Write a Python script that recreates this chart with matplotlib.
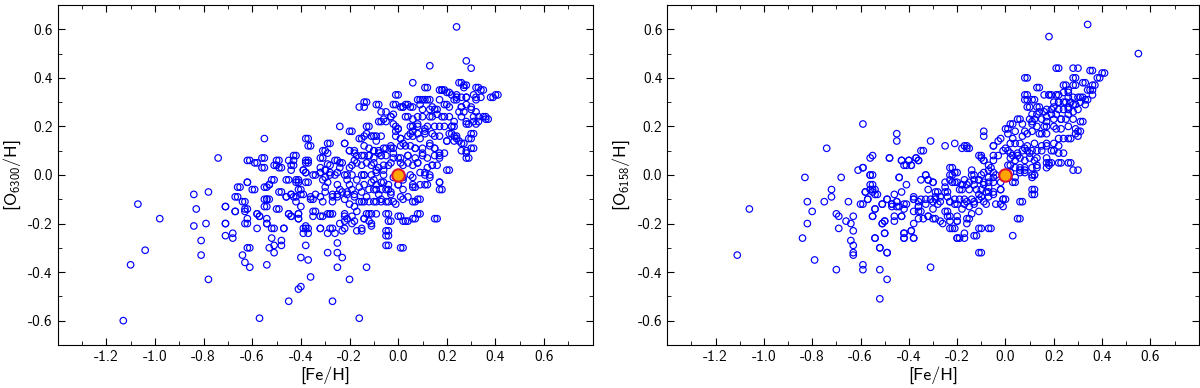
import numpy as np
from matplotlib import pyplot as plt
from matplotlib.ticker import MultipleLocator

plt.rcParams['font.family'] = ['cmss10', 'DejaVu Sans']
plt.rcParams['mathtext.fontset'] = 'custom'
plt.rcParams['mathtext.rm'] = 'cmss10'
plt.rcParams['axes.unicode_minus'] = False
plt.rcParams['axes.formatter.use_mathtext'] = False

# [Fe/H], [O6300/H] pairs
stars_6300 = [
    (-1.13, -0.60), (-1.10, -0.37), (-1.07, -0.12), (-1.04, -0.31), (-0.98, -0.18),
    (-0.84, -0.08), (-0.84, -0.21), (-0.83, -0.14), (-0.81, -0.27), (-0.81, -0.33),
    (-0.79, -0.20), (-0.78, -0.07), (-0.78, -0.43), (-0.74, 0.07), (-0.71, -0.13),
    (-0.71, -0.20), (-0.71, -0.25), (-0.68, -0.24), (-0.68, -0.26), (-0.67, -0.15),
    (-0.66, -0.09), (-0.65, -0.05), (-0.64, -0.33), (-0.63, -0.11), (-0.63, -0.36),
    (-0.62, -0.03), (-0.62, -0.14), (-0.62, -0.18), (-0.62, -0.20), (-0.62, -0.30),
    (-0.61, 0.06), (-0.61, -0.38), (-0.61, -0.30), (-0.59, -0.06), (-0.58, 0.05),
    (-0.58, -0.16), (-0.58, -0.22), (-0.57, -0.59), (-0.57, -0.17), (-0.55, 0.15),
    (-0.55, 0.07), (-0.55, 0.03), (-0.54, -0.05), (-0.54, -0.10), (-0.54, -0.13),
    (-0.54, -0.18), (-0.54, -0.20), (-0.54, -0.37), (-0.53, -0.04), (-0.53, -0.10),
    (-0.53, -0.30), (-0.52, -0.26), (-0.51, -0.02), (-0.51, -0.22), (-0.51, -0.29),
    (-0.51, -0.32), (-0.50, 0.04), (-0.49, 0.06), (-0.49, -0.14), (-0.48, 0.03),
    (-0.48, -0.07), (-0.48, -0.27), (-0.48, -0.29), (-0.47, -0.22), (-0.46, -0.09),
    (-0.45, -0.02), (-0.45, -0.16), (-0.45, -0.52), (-0.44, 0.02), (-0.44, -0.08),
    (-0.44, -0.17), (-0.43, 0.06), (-0.43, 0.04), (-0.42, 0.08), (-0.42, -0.11),
    (-0.42, -0.09), (-0.41, -0.16), (-0.41, -0.18), (-0.41, -0.02), (-0.41, -0.03),
    (-0.41, -0.47), (-0.40, -0.06), (-0.40, -0.13), (-0.40, -0.34), (-0.40, -0.46),
    (-0.39, 0.02), (-0.39, -0.08), (-0.39, -0.24), (-0.38, -0.21), (-0.38, -0.29),
    (-0.38, 0.01), (-0.37, 0.15), (-0.37, 0.06), (-0.37, 0.05), (-0.37, -0.03),
    (-0.37, -0.22), (-0.37, -0.24), (-0.37, -0.35), (-0.36, 0.12), (-0.36, -0.09),
    (-0.36, -0.42), (-0.35, -0.10), (-0.35, -0.17), (-0.34, 0.00), (-0.34, -0.15),
    (-0.32, 0.01), (-0.32, -0.22), (-0.31, 0.07), (-0.31, -0.02), (-0.31, -0.11),
    (-0.31, -0.17), (-0.30, 0.10), (-0.30, 0.02), (-0.30, -0.07), (-0.29, -0.03),
    (-0.29, -0.24), (-0.29, -0.32), (-0.28, 0.13), (-0.28, 0.04), (-0.28, 0.01),
    (-0.28, -0.16), (-0.27, -0.08), (-0.27, -0.11), (-0.27, -0.16), (-0.27, -0.22),
    (-0.27, -0.52), (-0.26, -0.24), (-0.25, 0.06), (-0.25, 0.01), (-0.25, -0.04),
    (-0.25, -0.09), (-0.25, -0.28), (-0.25, -0.32), (-0.25, -0.38), (-0.24, 0.20),
    (-0.24, -0.06), (-0.24, -0.20), (-0.23, 0.05), (-0.23, -0.23), (-0.23, -0.34),
    (-0.22, 0.13), (-0.22, -0.10), (-0.22, -0.17), (-0.21, 0.00), (-0.21, -0.07),
    (-0.21, -0.18), (-0.20, 0.10), (-0.20, -0.04), (-0.20, -0.12), (-0.20, -0.43),
    (-0.19, 0.18), (-0.19, 0.04), (-0.19, -0.20), (-0.18, 0.10), (-0.18, -0.08),
    (-0.18, -0.13), (-0.17, 0.08), (-0.17, -0.02), (-0.17, -0.15), (-0.17, -0.23),
    (-0.16, -0.59), (-0.16, -0.05), (-0.16, -0.11), (-0.15, 0.15), (-0.15, 0.08),
    (-0.15, -0.11), (-0.15, -0.22), (-0.14, 0.28), (-0.14, 0.00), (-0.14, -0.18),
    (-0.13, 0.30), (-0.13, 0.17), (-0.13, -0.09), (-0.13, -0.38), (-0.12, 0.20),
    (-0.12, 0.08), (-0.12, -0.16), (-0.11, 0.04), (-0.11, -0.03), (-0.11, -0.21),
    (-0.10, 0.16), (-0.10, 0.10), (-0.10, -0.06), (-0.10, -0.11), (-0.09, 0.14),
    (-0.09, 0.02), (-0.09, -0.16), (-0.08, 0.29), (-0.08, 0.09), (-0.08, -0.08),
    (-0.07, 0.16), (-0.07, 0.08), (-0.07, -0.03), (-0.07, -0.11), (-0.06, 0.23),
    (-0.06, 0.02), (-0.05, 0.26), (-0.05, 0.22), (-0.05, 0.11), (-0.04, 0.04),
    (-0.04, -0.06), (-0.04, -0.16), (-0.04, -0.23), (-0.04, -0.25), (-0.04, -0.29),
    (-0.04, -0.11), (-0.03, 0.24), (-0.03, 0.11), (-0.03, -0.08), (-0.03, -0.19),
    (-0.02, 0.21), (-0.02, 0.09), (-0.02, -0.01), (-0.01, 0.29), (-0.01, 0.18),
    (-0.01, -0.12), (0.00, 0.33), (0.00, 0.19), (0.00, 0.07), (0.00, -0.04),
    (0.01, 0.15), (0.01, -0.17), (0.02, 0.28), (0.02, -0.30), (0.02, 0.04),
    (0.03, 0.24), (0.03, 0.12), (0.03, -0.19), (0.04, 0.29), (0.04, 0.08),
    (0.04, -0.09), (0.05, 0.20), (0.05, 0.00), (0.06, 0.38), (0.06, 0.28),
    (0.06, 0.16), (0.07, 0.11), (0.07, -0.05), (0.07, -0.18), (0.07, -0.11),
    (0.08, 0.21), (0.08, 0.05), (0.09, 0.31), (0.09, 0.15), (0.09, -0.04),
    (0.09, -0.16), (0.09, -0.10), (0.10, 0.27), (0.10, 0.24), (0.10, 0.09),
    (0.11, 0.31), (0.11, 0.18), (0.11, 0.01), (0.12, 0.20), (0.12, 0.36),
    (0.12, -0.04), (0.13, 0.45), (0.13, 0.31), (0.13, 0.13), (0.13, 0.00),
    (0.14, 0.24), (0.14, 0.04), (0.15, 0.16), (0.15, 0.11), (0.16, 0.27),
    (0.16, -0.18), (0.17, 0.20), (0.17, 0.08), (0.17, -0.03), (0.18, 0.35),
    (0.18, 0.24), (0.18, -0.06), (0.19, 0.35), (0.19, 0.09), (0.20, 0.29),
    (0.20, 0.14), (0.21, 0.02), (0.21, 0.34), (0.22, 0.20), (0.22, 0.17),
    (0.23, 0.31), (0.23, 0.20), (0.24, 0.61), (0.24, 0.33), (0.24, 0.16),
    (0.25, 0.26), (0.25, 0.14), (0.26, 0.38), (0.26, 0.28), (0.27, 0.26),
    (0.27, 0.13), (0.28, 0.47), (0.28, 0.37), (0.28, 0.32), (0.28, 0.09),
    (0.29, 0.07), (0.29, 0.21), (0.30, 0.44), (0.30, 0.28), (0.30, 0.15),
    (0.31, 0.24), (0.31, 0.17), (0.31, 0.11), (0.32, 0.26), (0.33, 0.36),
    (0.33, 0.22), (0.34, 0.32), (0.35, 0.35), (0.36, 0.24), (0.37, 0.23),
    (0.39, 0.32), (0.41, 0.33),
    (-0.14, 0.16), (-0.11, 0.16), (-0.09, 0.16), (-0.01, 0.16), (0.01, 0.15),
    (0.04, 0.16), (0.05, 0.17), (0.06, 0.18), (0.08, 0.17), (0.11, 0.17),
    (0.14, 0.17), (0.17, 0.16), (0.21, 0.17), (0.23, 0.16), (0.24, 0.15),
    (0.26, 0.13), (0.29, 0.15), (0.30, 0.17), (-0.14, 0.12), (-0.12, 0.11),
    (-0.10, 0.10), (-0.08, 0.10), (-0.06, 0.11), (-0.03, 0.12), (-0.02, 0.11),
    (0.01, 0.12), (0.02, 0.13), (0.05, 0.12), (0.07, 0.11), (0.10, 0.11),
    (0.13, 0.12), (0.15, 0.11), (0.17, 0.09), (0.20, 0.14), (0.23, 0.14),
    (0.26, 0.10), (0.28, 0.10), (0.30, 0.11), (-0.14, 0.08), (-0.12, 0.08),
    (-0.10, 0.07), (-0.07, 0.08), (-0.05, 0.08), (-0.02, 0.07), (0.01, 0.07),
    (0.04, 0.08), (0.07, 0.07), (0.10, 0.08), (0.12, 0.07), (0.15, 0.08),
    (0.17, 0.07), (0.28, 0.07), (-0.15, 0.04), (-0.13, 0.05), (-0.10, 0.05),
    (-0.08, 0.03), (-0.06, 0.04), (-0.03, 0.05), (0.01, 0.05), (0.04, 0.05),
    (0.06, 0.04), (0.08, 0.05), (0.12, 0.03), (0.14, 0.04), (0.16, 0.04),
    (0.20, 0.02), (-0.15, 0.00), (-0.14, 0.00), (-0.11, 0.00), (-0.09, 0.01),
    (-0.06, 0.00), (0.02, -0.01), (0.06, -0.01), (0.09, 0.01), (0.11, 0.00),
    (0.13, -0.01), (-0.14, -0.04), (-0.10, -0.02), (-0.09, -0.04), (-0.06, -0.03),
    (-0.04, -0.04), (0.00, -0.04), (0.02, -0.02), (0.06, -0.04), (0.11, -0.04),
    (0.17, -0.03), (-0.15, -0.07), (-0.12, -0.06), (-0.09, -0.06), (-0.07, -0.06),
    (-0.05, -0.06), (-0.03, -0.07), (0.01, -0.09), (0.02, -0.06), (0.06, -0.05),
    (0.17, -0.06), (-0.14, -0.11), (-0.12, -0.11), (-0.09, -0.11), (-0.07, -0.10),
    (-0.05, -0.11), (-0.02, -0.11), (0.02, -0.10), (0.06, -0.11), (0.08, -0.10),
    (-0.13, -0.16), (-0.11, -0.16), (-0.14, -0.18), (-0.12, -0.19), (-0.11, -0.20),
    (-0.05, -0.16), (-0.04, -0.19), (0.00, -0.17), (0.02, -0.19), (0.04, -0.19),
    (0.06, -0.18), (0.08, -0.16), (0.15, -0.18), (-0.15, -0.23), (-0.05, -0.23),
    (-0.05, -0.25), (-0.05, -0.29), (0.01, -0.30),
    (-0.20, 0.18), (-0.16, 0.28), (-0.38, 0.15), (-0.37, 0.12), (-0.29, 0.13),
    (-0.22, 0.13), (-0.31, 0.10), (-0.29, 0.09), (-0.20, 0.10), (-0.18, 0.09),
    (-0.16, 0.15), (-0.62, 0.06), (-0.59, 0.05), (-0.56, 0.07), (-0.56, 0.03),
    (-0.50, 0.06), (-0.51, 0.04), (-0.49, 0.03), (-0.45, 0.06), (-0.44, 0.04),
    (-0.43, 0.08), (-0.38, 0.06), (-0.38, 0.05), (-0.39, 0.02), (-0.38, 0.01),
    (-0.32, 0.07), (-0.29, 0.045), (-0.32, 0.03), (-0.30, 0.02), (-0.26, 0.06),
    (-0.24, 0.05), (-0.24, 0.03), (-0.20, 0.03), (-0.18, 0.06), (-0.17, 0.05),
    (-0.35, 0.00), (-0.32, 0.01), (-0.30, -0.01), (-0.28, 0.00), (-0.26, 0.00),
    (-0.22, 0.00), (-0.21, -0.02), (-0.19, 0.00), (-0.66, -0.05), (-0.62, -0.03),
    (-0.60, -0.06), (-0.55, -0.05), (-0.53, -0.04), (-0.52, -0.02), (-0.46, -0.02),
    (-0.42, -0.02), (-0.42, -0.03), (-0.38, -0.03), (-0.49, -0.07), (-0.46, -0.09),
    (-0.44, -0.08), (-0.43, -0.09), (-0.41, -0.06), (-0.40, -0.08), (-0.36, -0.10),
    (-0.34, -0.08), (-0.32, -0.09), (-0.30, -0.05), (-0.27, -0.09), (-0.25, -0.08),
    (-0.23, -0.07), (-0.21, -0.08), (-0.19, -0.06), (-0.18, -0.09), (-0.67, -0.09),
    (-0.64, -0.11), (-0.71, -0.13), (-0.67, -0.15), (-0.63, -0.14), (-0.63, -0.15),
    (-0.58, -0.16), (-0.57, -0.17), (-0.55, -0.10), (-0.55, -0.13), (-0.54, -0.10),
    (-0.50, -0.14), (-0.45, -0.16), (-0.44, -0.17), (-0.41, -0.16), (-0.41, -0.18),
    (-0.35, -0.15), (-0.32, -0.17), (-0.29, -0.16), (-0.28, -0.16), (-0.22, -0.16),
    (-0.22, -0.19), (-0.19, -0.17), (-0.18, -0.19), (-0.71, -0.20), (-0.63, -0.20),
    (-0.54, -0.20), (-0.52, -0.22), (-0.47, -0.22), (-0.39, -0.22), (-0.38, -0.22),
    (-0.32, -0.22), (-0.28, -0.22), (-0.22, -0.22),
    (0.11, 0.36), (0.17, 0.35), (0.18, 0.35), (0.25, 0.38), (0.27, 0.37),
    (0.27, 0.36), (0.32, 0.36), (0.34, 0.35), (0.20, 0.34), (0.22, 0.33),
    (0.24, 0.32), (0.26, 0.32), (0.28, 0.32), (0.31, 0.33), (0.32, 0.32),
    (0.38, 0.32), (0.40, 0.33), (-0.01, 0.33), (-0.14, 0.30), (-0.09, 0.29),
    (-0.02, 0.29), (0.01, 0.28), (0.03, 0.29), (0.05, 0.28), (0.08, 0.31),
    (0.10, 0.31), (0.12, 0.31), (0.09, 0.29), (0.14, 0.28), (0.17, 0.31),
    (0.19, 0.29), (0.21, 0.28), (0.24, 0.31), (0.26, 0.28), (0.28, 0.29),
    (0.30, 0.27), (0.32, 0.31), (-0.07, 0.26), (-0.03, 0.24), (-0.02, 0.25),
    (0.02, 0.28), (0.04, 0.24), (0.06, 0.23), (0.08, 0.24), (0.13, 0.24),
    (0.13, 0.27), (0.15, 0.27), (0.16, 0.25), (0.19, 0.24), (0.21, 0.24),
    (0.23, 0.22), (0.26, 0.24), (0.28, 0.22), (0.31, 0.22), (0.33, 0.24),
    (0.35, 0.24), (0.36, 0.23), (-0.13, 0.20), (-0.08, 0.22), (-0.07, 0.22),
    (-0.01, 0.20), (0.00, 0.19), (0.06, 0.20), (0.08, 0.20), (0.11, 0.19),
    (0.15, 0.20), (0.19, 0.20), (0.22, 0.20), (0.28, 0.21), (0.32, 0.21),
]

# [Fe/H], [O6158/H] pairs
stars_6158 = [
    (-1.11, -0.33), (-1.06, -0.14), (-0.84, -0.26), (-0.83, -0.01), (-0.82, -0.11),
    (-0.82, -0.20), (-0.80, -0.15), (-0.79, -0.35), (-0.75, -0.11), (-0.74, 0.11),
    (-0.72, -0.06), (-0.72, -0.09), (-0.70, -0.16), (-0.70, -0.39), (-0.69, -0.17),
    (-0.69, -0.22), (-0.68, -0.01), (-0.66, -0.19), (-0.65, -0.11), (-0.64, -0.20),
    (-0.64, -0.27), (-0.63, -0.23), (-0.63, -0.29), (-0.63, -0.32), (-0.63, -0.33),
    (-0.63, -0.17), (-0.61, 0.02), (-0.59, -0.12), (-0.59, 0.21), (-0.59, 0.03),
    (-0.59, -0.37), (-0.59, -0.39), (-0.58, -0.07), (-0.57, -0.10), (-0.56, -0.06),
    (-0.56, 0.07), (-0.55, 0.08), (-0.56, 0.00), (-0.55, 0.00), (-0.55, -0.04),
    (-0.55, -0.17), (-0.54, -0.06), (-0.54, -0.14), (-0.54, -0.26), (-0.53, -0.08),
    (-0.52, -0.30), (-0.52, -0.39), (-0.52, -0.51), (-0.51, -0.12), (-0.51, -0.20),
    (-0.50, -0.19), (-0.50, -0.24), (-0.49, -0.10), (-0.49, -0.32), (-0.49, -0.43),
    (-0.48, 0.07), (-0.47, -0.12), (-0.46, -0.08), (-0.46, -0.19), (-0.45, 0.17),
    (-0.45, 0.14), (-0.45, -0.11), (-0.45, -0.13), (-0.44, -0.01), (-0.43, -0.07),
    (-0.43, -0.17), (-0.43, 0.06), (-0.42, -0.24), (-0.42, -0.26), (-0.41, -0.04),
    (-0.41, 0.04), (-0.41, -0.12), (-0.40, 0.06), (-0.39, 0.04), (-0.39, -0.23),
    (-0.38, -0.10), (-0.38, -0.20), (-0.38, -0.26), (-0.37, 0.07), (-0.36, 0.06),
    (-0.36, -0.13), (-0.36, -0.15), (-0.35, -0.10), (-0.34, -0.18), (-0.34, 0.10),
    (-0.33, 0.00), (-0.33, -0.12), (-0.32, -0.02), (-0.32, -0.06), (-0.32, -0.17),
    (-0.31, 0.14), (-0.31, -0.38), (-0.31, -0.10), (-0.30, -0.03), (-0.30, -0.14),
    (-0.29, -0.18), (-0.29, -0.10), (-0.28, -0.07), (-0.28, -0.12), (-0.27, -0.09),
    (-0.26, -0.20), (-0.25, -0.05), (-0.25, 0.12), (-0.24, -0.15), (-0.24, -0.07),
    (-0.23, -0.17), (-0.23, -0.11), (-0.22, -0.22), (-0.22, 0.03), (-0.22, 0.00),
    (-0.21, 0.13), (-0.21, -0.03), (-0.21, -0.12), (-0.21, -0.22), (-0.20, 0.01),
    (-0.20, -0.19), (-0.20, -0.26), (-0.19, -0.06), (-0.18, 0.11), (-0.18, -0.04),
    (-0.18, -0.14), (-0.17, -0.24), (-0.17, -0.26), (-0.17, -0.02), (-0.16, 0.12),
    (-0.16, -0.11), (-0.15, 0.11), (-0.15, -0.18), (-0.15, -0.03), (-0.14, -0.16),
    (-0.14, 0.00), (-0.13, -0.12), (-0.12, -0.25), (-0.12, -0.06), (-0.11, -0.15),
    (-0.11, -0.02), (-0.10, 0.08), (-0.10, -0.09), (-0.10, -0.22), (-0.10, -0.32),
    (-0.09, 0.18), (-0.09, 0.16), (-0.09, 0.06), (-0.09, -0.04), (-0.08, -0.12),
    (-0.07, -0.07), (-0.07, 0.02), (-0.06, -0.22), (-0.05, 0.12), (-0.05, -0.08),
    (-0.04, -0.12), (-0.04, 0.00), (-0.03, 0.14), (-0.03, 0.08), (-0.02, 0.15),
    (-0.02, -0.06), (-0.01, -0.13), (-0.01, -0.10), (0.00, 0.11), (0.00, -0.10),
    (0.01, 0.04), (0.01, 0.19), (0.02, 0.09), (0.03, 0.21), (0.03, 0.15),
    (0.03, -0.25), (0.04, 0.13), (0.04, -0.01), (0.05, 0.08), (0.06, 0.23),
    (0.06, -0.18), (0.06, 0.02), (0.07, -0.11), (0.07, 0.16), (0.08, 0.11),
    (0.08, 0.02), (0.09, 0.40), (0.09, 0.33), (0.09, 0.31), (0.09, 0.17),
    (0.10, 0.28), (0.10, 0.09), (0.11, 0.22), (0.12, 0.31), (0.12, 0.00),
    (0.12, -0.06), (0.12, -0.08), (0.13, 0.25), (0.13, 0.03), (0.13, 0.07),
    (0.14, 0.36), (0.14, 0.28), (0.15, 0.17), (0.15, 0.10), (0.16, 0.26),
    (0.17, 0.20), (0.17, 0.12), (0.18, 0.57), (0.18, 0.33), (0.18, 0.05),
    (0.18, 0.04), (0.19, 0.33), (0.19, 0.27), (0.19, 0.05), (0.20, 0.10),
    (0.21, 0.19), (0.22, 0.44), (0.22, 0.33), (0.22, 0.30), (0.23, 0.23),
    (0.23, 0.05), (0.24, 0.15), (0.24, 0.09), (0.25, 0.37), (0.25, 0.30),
    (0.26, 0.35), (0.26, 0.28), (0.26, 0.25), (0.27, 0.15), (0.27, 0.05),
    (0.28, 0.32), (0.29, 0.40), (0.29, 0.37), (0.29, 0.29), (0.30, 0.44),
    (0.30, 0.16), (0.30, 0.02), (0.31, 0.32), (0.31, 0.18), (0.32, 0.22),
    (0.33, 0.38), (0.33, 0.29), (0.34, 0.62), (0.34, 0.31), (0.35, 0.35),
    (0.36, 0.43), (0.36, 0.33), (0.37, 0.37), (0.39, 0.40), (0.41, 0.42),
    (0.55, 0.50),
    (-0.17, 0.12), (-0.16, 0.11), (-0.05, 0.12), (-0.48, 0.07), (-0.43, 0.06),
    (-0.40, 0.06), (-0.42, 0.04), (-0.39, 0.04), (-0.37, 0.07), (-0.36, 0.06),
    (-0.35, 0.10), (-0.11, 0.08), (-0.10, 0.07), (-0.09, 0.06), (-0.07, 0.04),
    (-0.05, 0.08), (-0.05, 0.06), (-0.59, 0.03), (-0.56, 0.00), (-0.44, -0.01),
    (-0.33, 0.00), (-0.32, -0.02), (-0.30, -0.03), (-0.35, -0.02), (-0.23, 0.03),
    (-0.23, 0.00), (-0.21, 0.01), (-0.23, -0.02), (-0.25, -0.03), (-0.22, -0.03),
    (-0.20, -0.03), (-0.18, -0.04), (-0.16, -0.04), (-0.18, -0.06), (-0.15, -0.06),
    (-0.14, 0.02), (-0.13, 0.00), (-0.13, -0.02), (-0.11, -0.02), (-0.10, 0.00),
    (-0.09, 0.01), (-0.07, -0.01), (-0.09, -0.03), (-0.07, -0.03), (-0.06, 0.03),
    (-0.05, 0.01), (-0.05, -0.01), (-0.05, -0.03), (-0.07, -0.05), (-0.05, -0.07),
    (-0.13, -0.04), (-0.10, -0.06), (-0.08, -0.07), (-0.11, -0.08), (-0.58, -0.07),
    (-0.55, -0.07), (-0.54, -0.08), (-0.56, -0.04), (-0.55, -0.06), (-0.60, -0.12),
    (-0.57, -0.10), (-0.54, -0.14), (-0.51, -0.12), (-0.49, -0.10), (-0.47, -0.12),
    (-0.47, -0.13), (-0.45, -0.11), (-0.44, -0.13), (-0.42, -0.12), (-0.42, -0.14),
    (-0.38, -0.09), (-0.38, -0.10), (-0.36, -0.11), (-0.36, -0.13), (-0.33, -0.10),
    (-0.30, -0.11), (-0.29, -0.07), (-0.29, -0.09), (-0.27, -0.11), (-0.25, -0.07),
    (-0.24, -0.09), (-0.23, -0.11), (-0.21, -0.10), (-0.20, -0.12), (-0.19, -0.10),
    (-0.17, -0.10), (-0.17, -0.12), (-0.15, -0.13), (-0.14, -0.10), (-0.13, -0.11),
    (-0.11, -0.10), (-0.09, -0.11), (-0.07, -0.09), (-0.55, -0.17), (-0.50, -0.19),
    (-0.46, -0.17), (-0.43, -0.17), (-0.38, -0.15), (-0.36, -0.18), (-0.35, -0.15),
    (-0.32, -0.17), (-0.30, -0.18), (-0.27, -0.19), (-0.25, -0.15), (-0.24, -0.17),
    (-0.23, -0.19), (-0.23, -0.22), (-0.20, -0.19), (-0.20, -0.17), (-0.16, -0.18),
    (-0.16, -0.20), (-0.11, -0.22), (-0.07, -0.22), (-0.51, -0.20), (-0.54, -0.26),
    (-0.50, -0.24), (-0.42, -0.24), (-0.42, -0.26), (-0.39, -0.23), (-0.38, -0.26),
    (-0.20, -0.26), (-0.19, -0.26), (-0.13, -0.25), (-0.52, -0.30), (-0.49, -0.32),
    (-0.11, -0.32),
    (0.21, 0.44), (0.28, 0.44), (0.35, 0.43), (0.40, 0.42), (0.38, 0.40),
    (0.08, 0.40), (0.28, 0.40), (0.24, 0.37), (0.28, 0.37), (0.32, 0.38),
    (0.36, 0.37), (0.26, 0.34), (0.34, 0.35), (0.36, 0.35), (0.13, 0.36),
    (0.08, 0.33), (0.08, 0.31), (0.11, 0.31), (0.16, 0.33), (0.18, 0.33),
    (0.21, 0.33), (0.24, 0.34), (0.26, 0.32), (0.30, 0.32), (0.32, 0.32),
    (0.33, 0.31), (0.31, 0.30), (0.28, 0.29), (0.27, 0.30), (0.22, 0.30),
    (0.20, 0.30), (0.24, 0.30), (0.09, 0.28), (0.13, 0.28), (0.11, 0.25),
    (0.14, 0.26), (0.17, 0.27), (0.20, 0.28), (0.22, 0.27), (0.24, 0.27),
    (0.26, 0.27), (0.28, 0.26), (0.30, 0.27), (0.17, 0.24), (0.19, 0.25),
    (0.21, 0.25), (0.05, 0.23), (0.10, 0.23), (0.12, 0.23), (0.15, 0.23),
    (0.17, 0.22), (0.20, 0.23), (0.23, 0.23), (0.25, 0.23), (0.28, 0.23),
    (0.31, 0.22), (0.00, 0.19), (0.02, 0.21), (0.07, 0.21), (0.11, 0.21),
    (0.13, 0.20), (0.16, 0.20), (0.20, 0.20), (0.23, 0.19), (0.26, 0.20),
    (0.29, 0.19), (0.30, 0.18), (0.29, 0.17), (0.01, 0.17), (0.04, 0.18),
    (0.08, 0.18), (0.11, 0.18), (0.14, 0.17), (0.17, 0.17), (0.22, 0.15),
    (0.26, 0.15), (0.02, 0.13), (0.06, 0.13), (0.09, 0.12), (0.12, 0.13),
    (0.15, 0.12), (0.17, 0.13), (0.20, 0.13), (0.22, 0.12), (-0.01, 0.10),
    (0.01, 0.10), (0.03, 0.08), (0.05, 0.09), (0.07, 0.10), (0.09, 0.10),
    (0.11, 0.10), (0.13, 0.10), (0.19, 0.10), (0.22, 0.09), (0.02, 0.07),
    (0.04, 0.06), (0.06, 0.07), (0.08, 0.06), (0.10, 0.07), (0.12, 0.06),
    (0.17, 0.07), (0.17, 0.05), (0.22, 0.05), (0.26, 0.05), (0.28, 0.02),
    (0.02, 0.04), (0.04, 0.03), (0.06, 0.03), (0.08, 0.03), (0.11, 0.03),
    (0.13, 0.04), (0.17, 0.03), (0.02, 0.01), (0.06, 0.01), (0.08, 0.01),
    (0.11, 0.00), (0.12, 0.00), (0.11, -0.01), (-0.02, -0.03), (-0.02, -0.06),
    (-0.01, -0.10), (-0.02, -0.12), (0.03, -0.03), (0.04, -0.03), (0.11, -0.06),
    (0.11, -0.08), (0.06, -0.11), (0.05, -0.18),
]

sun = (0.0, 0.0)

panels = [
    (stars_6300, r'[O$_{6300}$/H]'),
    (stars_6158, r'[O$_{6158}$/H]'),
]
axes_pos = [[0.048, 0.111, 0.446, 0.876], [0.556, 0.111, 0.443, 0.876]]

fig = plt.figure(figsize=(12, 3.88), dpi=100)

for (stars, ylab), pos in zip(panels, axes_pos):
    ax = fig.add_axes(pos)
    fe, ox = zip(*stars)
    ax.scatter(fe, ox, s=22, facecolors='none', edgecolors='blue', linewidths=0.85, zorder=2)
    ax.plot(sun[0], sun[1], 'o', ms=9, mfc='orange', mec='crimson', mew=1.5, zorder=3)

    ax.set_xlim(-1.4, 0.8)
    ax.set_ylim(-0.7, 0.7)
    ax.set_xticks(np.arange(-1.2, 0.61, 0.2))
    ax.set_yticks(np.arange(-0.6, 0.61, 0.2))
    ax.xaxis.set_minor_locator(MultipleLocator(0.1))
    ax.yaxis.set_minor_locator(MultipleLocator(0.1))
    ax.tick_params(which='both', direction='in', top=True, right=True, labelsize=11)
    ax.tick_params(which='major', length=5)
    ax.tick_params(which='minor', length=3)
    ax.set_xlabel('[Fe/H]', fontsize=13, labelpad=2)
    ax.set_ylabel(ylab, fontsize=13, labelpad=4)

plt.savefig('out.png', dpi=100)
